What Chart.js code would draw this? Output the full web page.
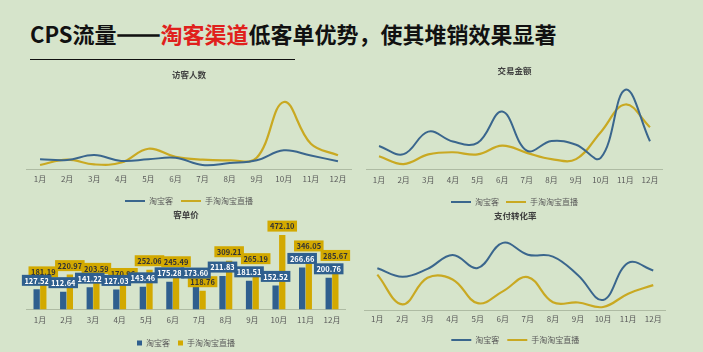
<!DOCTYPE html>
<html lang="zh-CN">
<head>
<meta charset="UTF-8">
<title>CPS流量</title>
<script src="https://cdn.jsdelivr.net/npm/chart.js@4.4.0/dist/chart.umd.min.js"></script>
<style>
  html, body { margin: 0; padding: 0; }
  body {
    width: 703px; height: 352px; overflow: hidden; position: relative;
    background: #d6e4cb;
    font-family: "Noto Sans CJK SC", sans-serif;
  }
  .title {
    position: absolute; left: 30px; top: 22px;
    font-size: 22px; line-height: 22px; font-weight: bold;
    color: #111; white-space: nowrap;
  }
  .title .red { color: #e0201c; }
  .title .dash { -webkit-text-stroke: 1.6px #111; }
  .rule { position: absolute; left: 30px; top: 59px; width: 265px; border-top: 1.5px solid #111; }
  .box { position: absolute; }
</style>
</head>
<body>
  <div class="title">CPS流量<span class="dash">——</span><span class="red">淘客渠道</span>低客单优势，使其堆销效果显著</div>
  <div class="rule"></div>

  <div class="box" style="left:20px; top:64px; width:334px; height:151px;"><canvas id="visitors"></canvas></div>
  <div class="box" style="left:360px; top:60px; width:310px; height:156px;"><canvas id="gmv"></canvas></div>
  <div class="box" style="left:20px; top:204px; width:334px; height:153px;"><canvas id="aov"></canvas></div>
  <div class="box" style="left:360px; top:204px; width:310px; height:150px;"><canvas id="cvr"></canvas></div>

<script>
const months = ['1月', '2月', '3月', '4月', '5月', '6月', '7月', '8月', '9月', '10月', '11月', '12月'];
const seriesNames = ['淘宝客', '手淘淘宝直播'];

// 访客人数
const visitorsTbk  = [10.7, 10.0, 15.3, 9.0, 10.7, 12.3, 4.7, 6.7, 9.7, 20.3, 14.7, 8.7];
const visitorsLive = [4.7, 10.3, 5.3, 7.3, 22.0, 13.3, 10.3, 9.7, 12.3, 71.7, 27.3, 15.0];

// 交易金额
const gmvTbk  = [25.0, 16.3, 40.3, 29.7, 28.3, 61.7, 20.0, 30.3, 26.3, 12.3, 85.0, 30.0];
const gmvLive = [14.0, 5.7, 16.0, 18.3, 16.0, 25.3, 17.7, 11.0, 11.0, 39.7, 69.3, 45.0];

// 客单价
const aovTbk  = [127.52, 112.64, 141.22, 127.03, 143.46, 175.28, 173.60, 211.83, 181.51, 152.52, 266.66, 200.76];
const aovLive = [181.19, 220.97, 203.59, 170.96, 252.06, 245.49, 118.76, 309.21, 265.19, 472.10, 346.05, 285.67];

// 支付转化率 (%)
const cvrTbk  = [4.43, 3.53, 4.36, 5.83, 4.46, 7.10, 5.86, 5.66, 3.70, 1.10, 5.00, 4.20];
const cvrLive = [3.76, 0.63, 3.43, 3.26, 0.76, 2.00, 3.50, 0.86, 0.83, 0.36, 1.76, 2.66];

const BLUE = '#3a668d';
const GOLD = '#c9a922';
const BAR_BLUE = '#2f5f8e';
const BAR_GOLD = '#d2a900';

Chart.defaults.font.family = '"Noto Sans CJK SC", sans-serif';
Chart.defaults.animation = false;
Chart.defaults.maintainAspectRatio = false;

function baseOptions(cfg) {
  return {
    layout: { padding: { left: cfg.padL, right: cfg.padR, top: 0, bottom: 0 } },
    plugins: {
      title: {
        display: true, text: cfg.title, color: '#404040',
        font: { size: 8.5, weight: 'bold' },
        padding: { top: cfg.titleTop, bottom: cfg.titleBottom }
      },
      legend: {
        position: 'bottom',
        labels: Object.assign({
          color: '#595959', font: { size: 8 }, padding: cfg.legendPad
        }, cfg.legendLabels)
      },
      tooltip: { enabled: false }
    },
    scales: {
      x: {
        offset: true,
        grid: { display: false, drawTicks: false },
        border: { display: true, color: '#aebba3', width: 1 },
        ticks: { color: '#595959', font: { size: 8 }, padding: cfg.tickPad, maxRotation: 0, autoSkip: false }
      },
      y: { display: false, min: 0, max: cfg.yMax }
    }
  };
}

function lineChart(id, cfg, a, b) {
  new Chart(document.getElementById(id), {
    type: 'line',
    data: {
      labels: months,
      datasets: [
        { label: seriesNames[0], data: a, borderColor: BLUE, backgroundColor: BLUE, borderWidth: 2, tension: 0.4, pointRadius: 0 },
        { label: seriesNames[1], data: b, borderColor: GOLD, backgroundColor: GOLD, borderWidth: 2.2, tension: 0.4, pointRadius: 0 }
      ]
    },
    options: baseOptions(Object.assign({
      legendLabels: { usePointStyle: true, pointStyle: 'line', pointStyleWidth: 20 }
    }, cfg))
  });
}

lineChart('visitors', { title: '访客人数', padL: 6.5, padR: 2.5, titleTop: 6, titleBottom: 14, tickPad: 5, legendPad: 8, yMax: 80 },
  visitorsTbk, visitorsLive);
lineChart('gmv', { title: '交易金额', padL: 6.7, padR: 7.7, titleTop: 6, titleBottom: 10, tickPad: 6, legendPad: 7, yMax: 88.8 },
  gmvTbk, gmvLive);
lineChart('cvr', { title: '支付转化率', padL: 4.8, padR: 4.2, titleTop: 6.5, titleBottom: 14, tickPad: 4, legendPad: 8, yMax: 7.96 },
  cvrTbk, cvrLive);

// value boxes above the bars, blue ones drawn last so they sit on top
const barLabels = {
  id: 'barLabels',
  afterDatasetsDraw(chart) {
    const ctx = chart.ctx;
    ctx.save();
    ctx.font = 'bold 7.5px "Noto Sans CJK SC", sans-serif';
    ctx.textAlign = 'center';
    ctx.textBaseline = 'middle';
    [1, 0].forEach(i => {
      const ds = chart.data.datasets[i];
      chart.getDatasetMeta(i).data.forEach((bar, j) => {
        const txt = ds.data[j].toFixed(2);
        const w = ctx.measureText(txt).width + 5;
        const cy = bar.y - 9;
        ctx.fillStyle = ds.backgroundColor;
        ctx.fillRect(bar.x - w / 2, cy - 5.5, w, 11);
        ctx.fillStyle = i === 0 ? '#ffffff' : '#333333';
        ctx.fillText(txt, bar.x, cy + 0.5);
      });
    });
    ctx.restore();
  }
};

new Chart(document.getElementById('aov'), {
  type: 'bar',
  data: {
    labels: months,
    datasets: [
      { label: seriesNames[0], data: aovTbk, backgroundColor: BAR_BLUE, categoryPercentage: 0.5, barPercentage: 0.95 },
      { label: seriesNames[1], data: aovLive, backgroundColor: BAR_GOLD, categoryPercentage: 0.5, barPercentage: 0.95 }
    ]
  },
  options: baseOptions({
    title: '客单价', padL: 6.7, padR: 8.7, titleTop: 6, titleBottom: 5, tickPad: 6, legendPad: 8, yMax: 535,
    legendLabels: { boxWidth: 5, boxHeight: 5 }
  }),
  plugins: [barLabels]
});
</script>
</body>
</html>
